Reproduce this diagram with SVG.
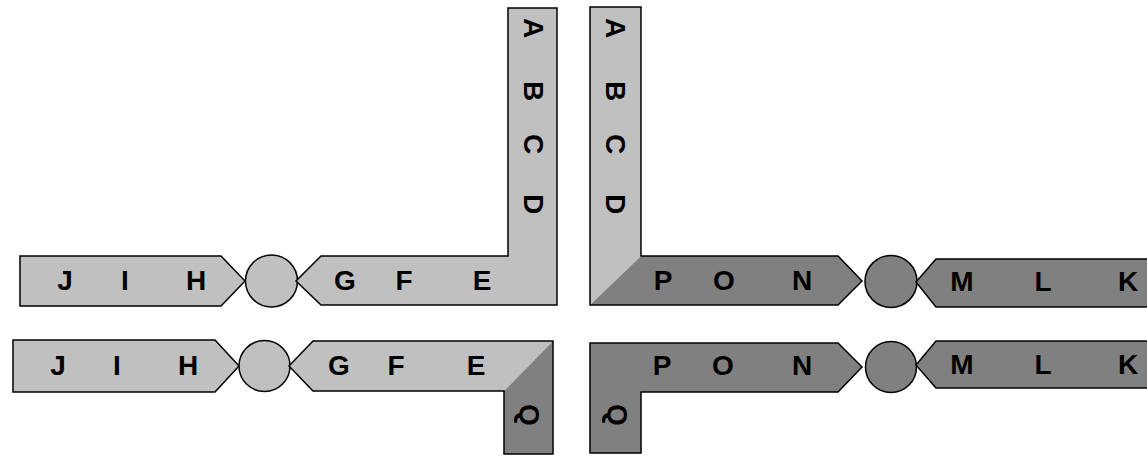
<svg xmlns="http://www.w3.org/2000/svg" width="1147" height="456" viewBox="0 0 1147 456">
  <style>
    .lt { fill: #c0c0c0; }
    .dk { fill: #808080; }
    .ol { fill: none; stroke: #000; stroke-width: 1.5; stroke-linejoin: miter; }
    .ltS { fill: #c0c0c0; stroke: #000; stroke-width: 1.5; }
    .dkS { fill: #808080; stroke: #000; stroke-width: 1.5; }
    .lbl { font-family: "Liberation Sans", Arial, sans-serif; font-weight: bold; font-size: 28px; fill: #000; text-anchor: middle; }
  </style>
  <rect width="1147" height="456" fill="#fff"/>

  <!-- Row 1 left -->
  <g id="jih1">
    <polygon class="ltS" points="20,256 221,256 245,281 221,306 20,306"/>
    <text class="lbl" x="65" y="290">J</text>
    <text class="lbl" x="125" y="290">I</text>
    <text class="lbl" x="196" y="290">H</text>
  </g>
  <g id="circle1">
    <circle class="ltS" cx="271.5" cy="281" r="26"/>
  </g>
  <g id="gfe-abcd1">
    <polygon class="ltS" points="508,8 557,8 557,305 321,305 296,281 321,256 508,256"/>
    <text class="lbl" x="345" y="290">G</text>
    <text class="lbl" x="404" y="290">F</text>
    <text class="lbl" x="482" y="290">E</text>
    <text class="lbl" transform="translate(534,28) rotate(90)" y="10">A</text>
    <text class="lbl" transform="translate(534,91) rotate(90)" y="10">B</text>
    <text class="lbl" transform="translate(534,144) rotate(90)" y="10">C</text>
    <text class="lbl" transform="translate(534,204) rotate(90)" y="10">D</text>
  </g>

  <!-- Row 1 right -->
  <g id="abcd-pon1">
    <polygon class="lt" points="590,7 641,7 641,256 590,305"/>
    <polygon class="dk" points="590,305 641,256 838,256 862,281 838,305"/>
    <polygon class="ol" points="590,7 641,7 641,256 838,256 862,281 838,305 590,305"/>
    <text class="lbl" transform="translate(616,28) rotate(90)" y="10">A</text>
    <text class="lbl" transform="translate(616,91) rotate(90)" y="10">B</text>
    <text class="lbl" transform="translate(616,144) rotate(90)" y="10">C</text>
    <text class="lbl" transform="translate(616,204) rotate(90)" y="10">D</text>
    <text class="lbl" x="663" y="290">P</text>
    <text class="lbl" x="724" y="290">O</text>
    <text class="lbl" x="802" y="290">N</text>
  </g>
  <g id="circle2">
    <circle class="dkS" cx="891" cy="281.5" r="26"/>
  </g>
  <g id="mlk1">
    <polygon class="dkS" points="936,259 1160,259 1160,307 936,307 916,282"/>
    <text class="lbl" x="962" y="291">M</text>
    <text class="lbl" x="1043" y="291">L</text>
    <text class="lbl" x="1128" y="291">K</text>
  </g>

  <!-- Row 2 left -->
  <g id="jih2">
    <polygon class="ltS" points="13,340 215,340 239,366 215,392 13,392"/>
    <text class="lbl" x="58" y="375">J</text>
    <text class="lbl" x="117" y="375">I</text>
    <text class="lbl" x="188" y="375">H</text>
  </g>
  <g id="circle3">
    <circle class="ltS" cx="264.5" cy="366" r="25.5"/>
  </g>
  <g id="gfe-q2">
    <polygon class="lt" points="313,341 553,341 504,391 313,391 289,366"/>
    <polygon class="dk" points="504,391 553,341 553,454 504,454"/>
    <polygon class="ol" points="313,341 553,341 553,454 504,454 504,391 313,391 289,366"/>
    <text class="lbl" x="339" y="375">G</text>
    <text class="lbl" x="396" y="375">F</text>
    <text class="lbl" x="476" y="375">E</text>
    <text class="lbl" transform="translate(530,415) rotate(90)" y="10">Q</text>
  </g>

  <!-- Row 2 right -->
  <g id="pon-q2">
    <polygon class="dkS" points="590,343 838,343 862,367 838,392 641,392 641,453 590,453"/>
    <text class="lbl" x="662" y="375">P</text>
    <text class="lbl" x="723" y="375">O</text>
    <text class="lbl" x="802" y="375">N</text>
    <text class="lbl" transform="translate(618,415) rotate(90)" y="10">Q</text>
  </g>
  <g id="circle4">
    <circle class="dkS" cx="891" cy="367" r="25.5"/>
  </g>
  <g id="mlk2">
    <polygon class="dkS" points="936,341 1160,341 1160,388 936,388 916,365"/>
    <text class="lbl" x="962" y="374">M</text>
    <text class="lbl" x="1043" y="374">L</text>
    <text class="lbl" x="1128" y="374">K</text>
  </g>

  <g id="connectors"></g>
</svg>
